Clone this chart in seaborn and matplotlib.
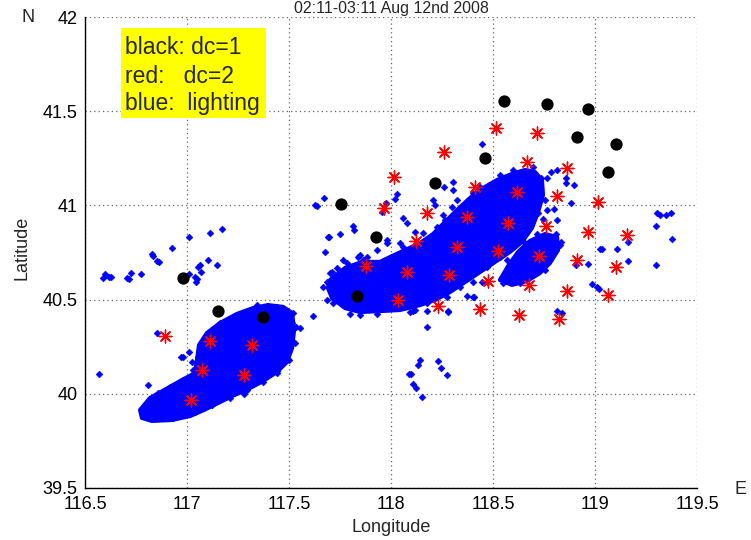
import matplotlib
matplotlib.use("Agg")
import matplotlib.pyplot as plt
from matplotlib.patches import Rectangle
import pandas as pd
import seaborn as sns

# ---- data -------------------------------------------------------------
title_text = "02:11-03:11 Aug 12nd 2008"

# dc=1 discharges (black)
dc1_lon = [116.980, 117.152, 117.373, 117.755, 117.926, 117.833, 118.216,
           118.461, 118.554, 118.765, 118.966, 118.912, 119.103, 119.064]
dc1_lat = [40.615, 40.439, 40.408, 41.007, 40.832, 40.519, 41.119,
           41.252, 41.554, 41.538, 41.512, 41.363, 41.326, 41.177]

# dc=2 discharges (red)
dc2_lon = [116.892, 117.113, 117.319, 117.074, 117.279, 117.020, 118.515,
           118.716, 118.260, 118.667, 118.015, 118.412, 118.618, 117.966,
           118.176, 118.373, 118.574, 118.760, 118.123, 118.324, 118.525,
           118.725, 117.877, 118.078, 118.284, 118.475, 118.676, 118.034,
           118.230, 118.436, 118.627, 118.863, 118.814, 119.015, 118.966,
           119.157, 118.912, 119.103, 118.863, 119.064, 118.824]
dc2_lat = [40.307, 40.280, 40.259, 40.126, 40.100, 39.967, 41.411,
           41.384, 41.283, 41.230, 41.151, 41.098, 41.071, 40.986,
           40.960, 40.938, 40.907, 40.891, 40.811, 40.779, 40.758,
           40.731, 40.678, 40.647, 40.631, 40.599, 40.578, 40.498,
           40.466, 40.450, 40.418, 41.199, 41.050, 41.018, 40.859,
           40.843, 40.710, 40.673, 40.546, 40.524, 40.397]

# isolated lightning strokes (blue)
light_lon = [
    116.569, 116.588, 116.598, 116.618, 116.627, 116.706, 116.716, 116.725,
    116.775, 116.828, 116.833, 116.853, 116.863, 116.926, 117.010, 117.113,
    117.172, 117.103, 117.147, 117.064, 117.054, 117.069, 117.039, 117.049,
    117.044, 117.010, 116.853, 116.809,
    116.980, 116.971, 117.010, 117.054, 117.059, 117.025, 117.098, 117.245,
    117.343, 117.441, 117.520, 117.515, 117.466, 117.490, 117.441, 117.471,
    117.279,
    117.627, 117.637, 117.672, 117.696, 117.750, 117.676, 117.814, 117.819,
    117.691, 117.848, 117.863, 117.882,
    118.446, 118.304, 118.260, 118.304, 118.029, 118.020, 117.976, 117.956,
    118.206, 118.216, 118.044, 118.059, 118.172, 118.181, 118.265, 118.275,
    118.495, 118.534, 118.569, 118.618, 118.667, 118.696, 118.721, 118.745,
    118.765, 117.618, 117.554, 118.176, 118.118, 118.279, 118.402, 118.402,
    118.446, 118.471, 117.686, 117.686, 117.711, 117.735, 117.784, 117.931,
    117.980, 118.059, 118.078, 117.848, 118.279, 118.373, 118.407, 118.108,
    118.176,
    118.142, 118.132, 118.088, 118.098, 118.108, 118.123, 118.152, 118.230,
    118.245, 118.275,
    118.814, 118.838, 119.304, 119.319, 119.348, 119.373, 119.299, 119.377,
    119.162, 119.025, 119.034, 119.108, 119.162, 118.966, 118.907, 119.299,
    118.985, 119.010, 119.020, 118.882, 118.858, 118.858, 118.897, 118.799,
    118.814, 118.833, 118.809, 118.779, 118.716, 118.814, 118.784, 118.765,
    118.735]
light_lat = [
    40.105, 40.615, 40.636, 40.620, 40.620, 40.615, 40.609, 40.641,
    40.636, 40.742, 40.731, 40.705, 40.700, 40.774, 40.832, 40.853,
    40.875, 40.710, 40.684, 40.684, 40.673, 40.646, 40.620, 40.609,
    40.593, 40.636, 40.323, 40.047,
    40.195, 40.195, 40.222, 40.195, 40.163, 40.169, 40.248, 40.392,
    40.471, 40.461, 40.429, 40.376, 40.286, 40.217, 40.121, 40.163,
    39.999,
    41.002, 40.997, 41.039, 40.832, 40.848, 40.753, 40.891, 40.869,
    40.832, 40.737, 40.710, 40.726,
    41.326, 41.124, 41.098, 41.082, 41.060, 41.034, 41.013, 40.965,
    41.029, 41.002, 40.800, 40.779, 40.800, 40.811, 40.922, 40.880,
    41.108, 41.135, 41.151, 41.161, 41.161, 41.204, 40.960, 40.928,
    40.832, 40.413, 40.349, 40.355, 40.445, 40.439, 40.514, 40.593,
    40.593, 40.593, 40.498, 40.593, 40.646, 40.668, 40.694, 40.763,
    40.800, 40.933, 40.907, 40.418, 40.434, 40.519, 40.514, 40.439,
    40.439,
    40.179, 40.153, 40.105, 40.105, 40.052, 40.031, 39.983, 40.174,
    40.137, 40.100,
    40.439, 40.429, 40.960, 40.949, 40.949, 40.960, 40.891, 40.822,
    40.806, 40.769, 40.769, 40.769, 40.705, 40.689, 40.684, 40.684,
    40.583, 40.567, 40.556, 41.013, 41.145, 41.119, 41.108, 40.981,
    40.922, 40.806, 40.848, 40.715, 40.848, 41.188, 41.177, 41.145,
    41.145]

# strokes on the ragged rims of the dense storm cells
rim_lon = [
    117.980, 118.118, 118.157, 118.225, 118.255, 118.299, 118.324, 118.402,
    118.436, 118.534, 118.598, 118.696, 118.730, 118.755, 118.765, 118.534,
    118.569, 118.471, 118.402, 118.338, 118.275, 118.176, 118.093, 117.931,
    117.799, 117.716, 117.667, 117.701, 117.765, 117.838,
    116.804, 116.794, 116.858, 116.917, 116.980, 117.029, 117.049, 117.064,
    117.098, 117.162, 117.225, 117.294, 117.392, 117.466, 117.534, 117.529,
    117.500, 117.441, 117.373, 117.294, 117.211, 117.123, 117.039, 116.931,
    118.828, 118.755, 118.632, 118.549, 118.657]
rim_lat = [
    40.816, 40.859, 40.853, 40.885, 40.949, 40.992, 41.029, 41.066,
    41.098, 41.161, 41.188, 41.151, 41.066, 41.029, 40.976, 40.726,
    40.710, 40.673, 40.641, 40.567, 40.514, 40.482, 40.434, 40.424,
    40.424, 40.482, 40.567, 40.641, 40.710, 40.726,
    39.903, 39.941, 40.004, 40.036, 40.073, 40.126, 40.169, 40.248,
    40.312, 40.376, 40.408, 40.434, 40.445, 40.455, 40.355, 40.270,
    40.179, 40.110, 40.063, 40.020, 39.978, 39.941, 39.903, 39.872,
    40.790, 40.657, 40.588, 40.588, 40.800]

# outlines of the regions saturated with strokes
sw_core_lon = [116.770, 116.819, 116.897, 116.975, 117.039, 117.049, 117.059,
               117.098, 117.162, 117.245, 117.324, 117.397, 117.471, 117.515,
               117.525, 117.515, 117.490, 117.441, 117.373, 117.299, 117.221,
               117.152, 117.083, 117.015, 116.926, 116.828, 116.779]
sw_core_lat = [39.914, 39.978, 40.025, 40.073, 40.110, 40.179, 40.259,
               40.323, 40.376, 40.424, 40.455, 40.471, 40.461, 40.429,
               40.339, 40.243, 40.169, 40.116, 40.068, 40.025, 39.988,
               39.951, 39.914, 39.882, 39.861, 39.856, 39.872]

ne_core_lon = [117.691, 117.701, 117.775, 117.858, 117.946, 118.005, 118.069,
               118.142, 118.206, 118.265, 118.324, 118.387, 118.451, 118.520,
               118.593, 118.657, 118.706, 118.740, 118.745, 118.721, 118.691,
               118.642, 118.583, 118.510, 118.436, 118.363, 118.289, 118.216,
               118.142, 118.044, 117.946, 117.848, 117.775, 117.711]
ne_core_lat = [40.562, 40.604, 40.668, 40.700, 40.700, 40.731, 40.763,
               40.800, 40.848, 40.912, 40.976, 41.039, 41.092, 41.135,
               41.167, 41.188, 41.177, 41.135, 41.055, 40.965, 40.880,
               40.806, 40.753, 40.700, 40.646, 40.593, 40.540, 40.498,
               40.471, 40.445, 40.439, 40.434, 40.455, 40.508]

se_core_lon = [118.534, 118.574, 118.623, 118.681, 118.755, 118.814, 118.819,
               118.779, 118.730, 118.667, 118.593]
se_core_lat = [40.604, 40.678, 40.753, 40.811, 40.848, 40.832, 40.763,
               40.694, 40.641, 40.599, 40.578]

x_ticks = [116.5, 117, 117.5, 118, 118.5, 119, 119.5]
x_tick_labels = ["116.5", "117", "117.5", "118", "118.5", "119", "119.5"]
y_ticks = [39.5, 40, 40.5, 41, 41.5, 42]
y_tick_labels = ["39.5", "40", "40.5", "41", "41.5", "42"]

legend_lines = ["black: dc=1", "red:   dc=2", "blue:  lighting"]

# ---- figure -----------------------------------------------------------
sns.set_style("white")
plt.rcParams["font.family"] = ["Liberation Sans", "DejaVu Sans"]

W, H = 751, 540
fig = plt.figure(figsize=(W / 100, H / 100), dpi=100)
ax_l, ax_r, ax_t, ax_b = 85, 697, 17, 488
ax = fig.add_axes([ax_l / W, 1 - ax_b / H, (ax_r - ax_l) / W, (ax_b - ax_t) / H])

df_light = pd.DataFrame({"lon": light_lon + rim_lon,
                         "lat": light_lat + rim_lat})
df_dc1 = pd.DataFrame({"lon": dc1_lon, "lat": dc1_lat})
df_dc2 = pd.DataFrame({"lon": dc2_lon, "lat": dc2_lat})

for lon, lat in [(sw_core_lon, sw_core_lat), (ne_core_lon, ne_core_lat),
                 (se_core_lon, se_core_lat)]:
    ax.fill(lon, lat, facecolor="#0000ff", edgecolor="#0000ff",
            linewidth=3.0, joinstyle="round", zorder=2)

sns.scatterplot(data=df_light, x="lon", y="lat", ax=ax, marker="D", s=12,
                color="#0000ff", edgecolor="#0000ff", linewidth=0.4, zorder=3)
sns.scatterplot(data=df_dc2, x="lon", y="lat", ax=ax, marker=(8, 2, 0), s=85,
                color="#ff0000", edgecolor="#ff0000", linewidth=1.0, zorder=4)
sns.scatterplot(data=df_dc1, x="lon", y="lat", ax=ax, marker="o", s=78,
                color="black", edgecolor="black", linewidth=0, zorder=5)

ax.set_xlim(116.5, 119.5)
ax.set_ylim(39.5, 42)
ax.set_xticks(x_ticks)
ax.set_xticklabels(x_tick_labels)
ax.set_yticks(y_ticks)
ax.set_yticklabels(y_tick_labels)

ax.grid(True, linestyle=(0, (1, 2.5)), color="#666666", linewidth=0.9)
ax.set_axisbelow(True)
for side in ("top", "right"):
    ax.spines[side].set_visible(False)
for side in ("left", "bottom"):
    ax.spines[side].set_color("black")
    ax.spines[side].set_linewidth(1.0)

ax.tick_params(axis="both", direction="in", length=4, width=0.8,
               colors="black", labelsize=13)
ax.tick_params(axis="x", pad=6)
ax.tick_params(axis="y", pad=5.5)

ax.set_xlabel("Longitude", fontsize=13)
ax.set_ylabel("Latitude", fontsize=13)
ax.xaxis.label.set_va("center")
ax.yaxis.label.set_va("center")
ax.xaxis.set_label_coords(0.5, -(528 - ax_b) / (ax_b - ax_t))
ax.yaxis.set_label_coords(-(ax_l - 22) / (ax_r - ax_l),
                          (ax_b - 248) / (ax_b - ax_t))

fig.text(28 / W, 1 - 17 / H, "N", fontsize=13, ha="center", va="center")
fig.text(741 / W, 1 - 489 / H, "E", fontsize=13, ha="center", va="center")
fig.text((ax_l + ax_r) / 2 / W, 1 - 1 / H, title_text, fontsize=11.5,
         ha="center", va="top")

# legend note in a yellow box
def ax_x(px):
    return (px - ax_l) / (ax_r - ax_l)

def ax_y(py):
    return (ax_b - py) / (ax_b - ax_t)

ax.add_patch(Rectangle((ax_x(121), ax_y(118)), ax_x(266) - ax_x(121),
                       ax_y(28) - ax_y(118), transform=ax.transAxes,
                       facecolor="#ffff00", edgecolor="none", zorder=6))
for line, base in zip(legend_lines, [54, 82.7, 110]):
    ax.text(ax_x(125), ax_y(base), line, transform=ax.transAxes,
            fontsize=16.5, ha="left", va="baseline", zorder=7)

fig.savefig("out.png", dpi=100)
